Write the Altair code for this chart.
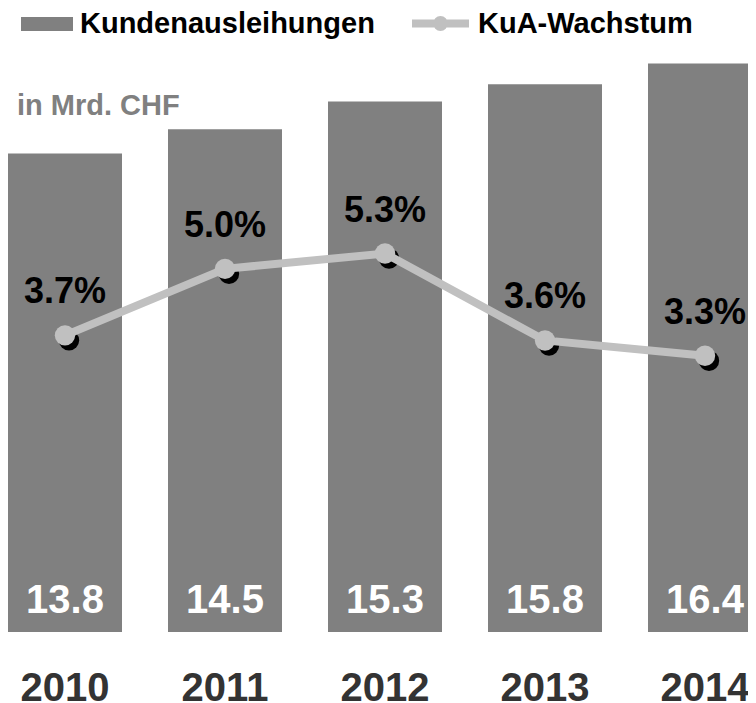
import altair as alt
import pandas as pd

years = ["2010", "2011", "2012", "2013", "2014"]
loans = [13.8, 14.5, 15.3, 15.8, 16.4]
growth = [3.7, 5.0, 5.3, 3.6, 3.3]
growth_labels = ["3.7%", "5.0%", "5.3%", "3.6%", "3.3%"]
series_bar = "Kundenausleihungen"
series_line = "KuA-Wachstum"
unit_label = "in Mrd. CHF"

df = pd.DataFrame({
    "year": years,
    "loans": loans,
    "growth": growth,
    "glabel": growth_labels,
    "lab": [f"{v:.1f}" for v in loans],
    "s1": series_bar,
    "s2": series_line,
})

FONT = "Liberation Sans"
BAR = "#808080"
LINE = "#c0c0c0"

xscale = alt.Scale(domain=years, paddingInner=0.2875, paddingOuter=0)
xaxis = alt.Axis(title=None, labelAngle=0, labelFont=FONT, labelFontSize=40,
                 labelFontWeight="bold", labelColor="#333333", domain=False,
                 ticks=False, tickSize=0, labelPadding=68, labelBaseline="alphabetic",
                 grid=False)
X = alt.X("year:N", scale=xscale, axis=xaxis)

ybar = alt.Scale(domain=[0, 18])
yline = alt.Scale(domain=[-2.1, 10.1])

base = alt.Chart(df)

bars = base.mark_bar().encode(
    x=X,
    y=alt.Y("loans:Q", scale=ybar, axis=None),
    color=alt.Color("s1:N", scale=alt.Scale(domain=[series_bar], range=[BAR]),
                    legend=alt.Legend(title=None, orient="none", legendX=13, legendY=-10,
                                      symbolType="M-1,-0.27H1V0.27H-1Z", symbolSize=2704,
                                      symbolStrokeWidth=0, symbolOpacity=1,
                                      labelFont=FONT, labelFontSize=29, labelFontWeight="bold",
                                      labelColor="black", labelOffset=7, labelLimit=500)),
)

bar_text = base.mark_text(font=FONT, fontSize=40, fontWeight="bold", color="white",
                          baseline="alphabetic", dy=-19).encode(
    x=X,
    y=alt.YDatum(0, scale=ybar, axis=None, type="quantitative"),
    text="lab:N",
)

Yl = alt.Y("growth:Q", scale=yline, axis=None)

line = base.mark_line(strokeWidth=8).encode(
    x=X,
    y=Yl,
    color=alt.Color("s2:N", scale=alt.Scale(domain=[series_line], range=[LINE]),
                    legend=alt.Legend(title=None, orient="none", legendX=400, legendY=-17,
                                      symbolType="M-1,0H1M-0.12,0A0.12,0.12 0 1,0 0.12,0A0.12,0.12 0 1,0 -0.12,0Z",
                                      symbolSize=3249, symbolStrokeWidth=8,
                                      symbolStrokeColor=LINE, symbolFillColor=LINE,
                                      symbolOpacity=1,
                                      labelFont=FONT, labelFontSize=29, labelFontWeight="bold",
                                      labelColor="black", labelOffset=5, labelLimit=500)),
)

shadow = base.mark_circle(size=415, color="black", opacity=1, xOffset=4, yOffset=5).encode(
    x=X, y=Yl)
points = base.mark_circle(size=415, color=LINE, opacity=1).encode(x=X, y=Yl)
pct = base.mark_text(font=FONT, fontSize=36, fontWeight="bold", color="black",
                     baseline="alphabetic", dy=-32).encode(x=X, y=Yl, text="glabel:N")

unit = alt.Chart(pd.DataFrame({"t": [unit_label]})).mark_text(
    font=FONT, fontSize=29, fontWeight="bold", color=BAR, align="left",
    baseline="alphabetic").encode(x=alt.value(9), y=alt.value(107), text="t:N")

left = alt.layer(bars, bar_text)
right = alt.layer(shadow, line, points, pct)

chart = alt.layer(left, right, unit).resolve_scale(
    y="independent", color="independent"
).properties(
    width=754, height=624,
    padding={"left": 0, "top": 0, "right": -14, "bottom": 71},
    autosize=alt.AutoSizeParams(type="none"),
).configure_view(stroke=None)

chart.save("out.html", embed_options={"renderer": "svg", "actions": False})
